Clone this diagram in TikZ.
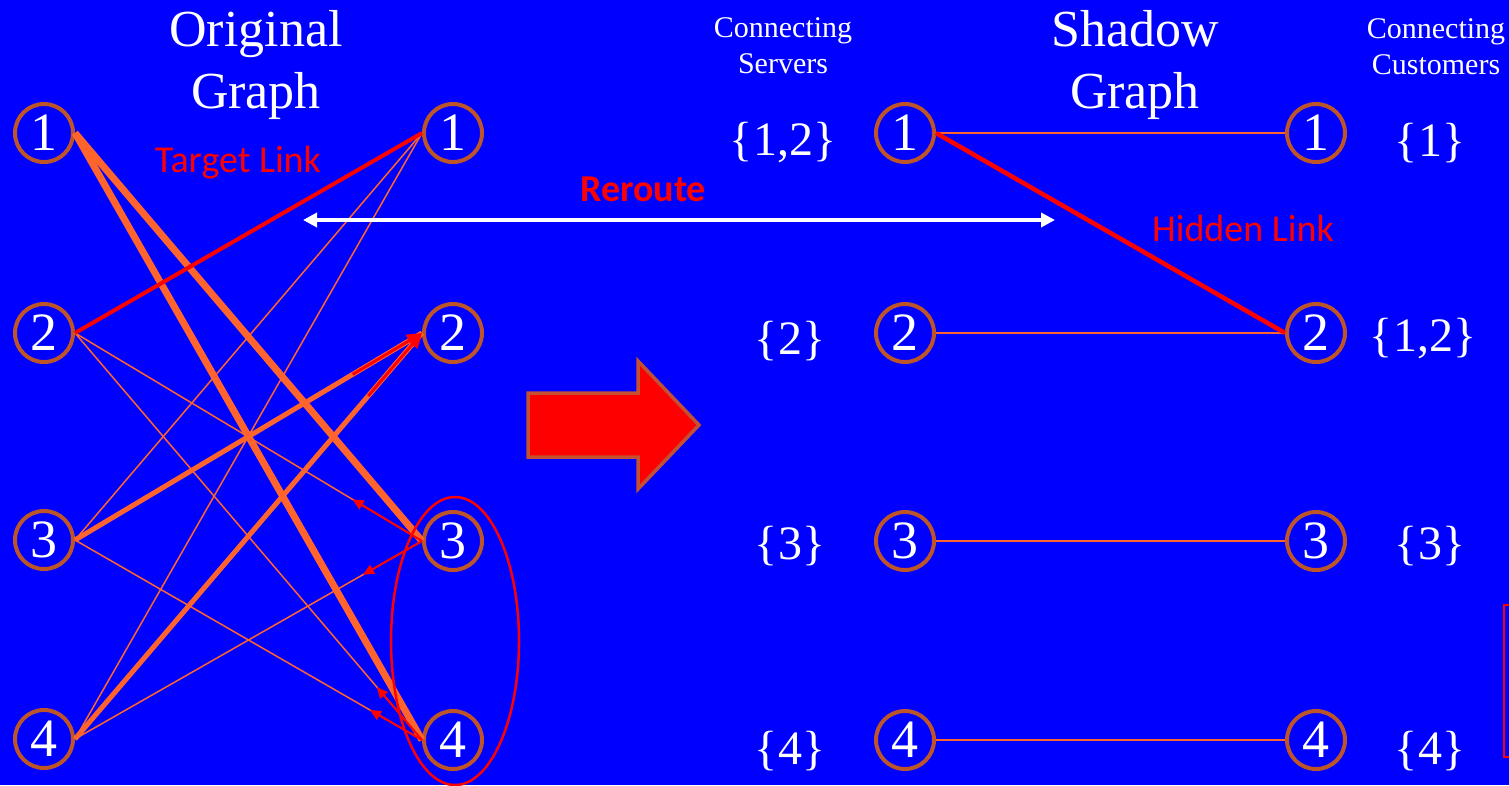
\documentclass[tikz,border=0pt]{standalone}
\usepackage{fontspec}
\setmainfont{Liberation Serif}
\newfontfamily\labfont{Carlito}
\usetikzlibrary{arrows.meta,calc}
\definecolor{bgblue}{RGB}{0,0,255}
\definecolor{nodebrown}{RGB}{190,85,40}
\definecolor{edgeorange}{RGB}{255,100,45}
\definecolor{arrowborder}{RGB}{195,80,50}
\begin{document}
\begin{tikzpicture}[x=1pt,y=-1pt,
  vtx/.style={circle,draw=nodebrown,line width=4pt,minimum size=58pt,inner sep=0pt,text=white,font=\fontsize{54}{54}\selectfont},
  settext/.style={text=white,font=\fontsize{48}{48}\selectfont,inner sep=0pt},
  titletext/.style={text=white,align=center,font=\fontsize{52}{62}\selectfont,inner sep=0pt},
  smalltitle/.style={text=white,align=center,font=\fontsize{30}{36}\selectfont,inner sep=0pt},
  redlabel/.style={text=red,font=\labfont\fontsize{38}{38}\selectfont,inner sep=0pt},
  thinedge/.style={draw=edgeorange,line width=1.5pt},
  thickedge/.style={draw=edgeorange,line width=7pt},
  midedge/.style={draw=edgeorange,line width=5pt},
  smallarrow/.style={draw=red,line width=2pt,-{Triangle[length=11pt,width=10pt]}},
  bigtip/.style={draw=red,line width=3pt,-{Triangle[length=15pt,width=13pt]}}
]
\fill[bgblue] (0,0) rectangle (1509,785);
\useasboundingbox (0,0) rectangle (1509,785);

% titles
\node[titletext] (tOrig) at (256,65) {Original\\Graph};
\node[titletext] (tShadow) at (1135,65) {Shadow\\Graph};
\node[smalltitle] (tServers) at (783,46) {Connecting\\Servers};
\node[smalltitle] (tCust) at (1436,47) {Connecting\\Customers};

% left graph nodes
\node[vtx] (L1) at (44,133) {1};
\node[vtx] (L2) at (44,333) {2};
\node[vtx] (L3) at (44,540) {3};
\node[vtx] (L4) at (44,739) {4};
\node[vtx] (R1) at (453,133) {1};
\node[vtx] (R2) at (453,333) {2};
\node[vtx] (R3) at (453,541) {3};
\node[vtx] (R4) at (453,740) {4};

% left graph edges
\draw[thinedge] (L2.east) -- (R3.west);
\draw[thinedge] (L2.east) -- (R4.west);
\draw[thinedge] (L3.east) -- (R1.west);
\draw[thinedge] (L3.east) -- (R4.west);
\draw[thinedge] (L4.east) -- (R1.west);
\draw[thinedge] (L4.east) -- (R3.west);
\draw[midedge] (L3.east) -- (R2.west);
\draw[midedge] (L4.east) -- (R2.west);
\draw[thickedge] (L1.east) -- (R3.west);
\draw[thickedge] (L1.east) -- (R4.west);
\draw[draw=red,line width=4pt] (L2.east) -- (R1.west);

% red arrows
\coordinate (a1) at ($(R3.west)!0.2!(L2.east)$);
\coordinate (a2) at ($(R3.west)!0.17!(L4.east)$);
\coordinate (a3) at ($(R4.west)!0.13!(L2.east)$);
\coordinate (a4) at ($(R4.west)!0.15!(L3.east)$);
\draw[smallarrow] (R3.west) -- (a1);
\draw[smallarrow] (R3.west) -- (a2);
\draw[smallarrow] (R4.west) -- (a3);
\draw[smallarrow] (R4.west) -- (a4);
\coordinate (b1) at ($(R2.west)!0.2!(L3.east)$);
\coordinate (b2) at ($(R2.west)!0.155!(L4.east)$);
\draw[bigtip] (b1) -- (R2.west);
\draw[bigtip] (b2) -- (R2.west);

% ellipse around 3 and 4
\draw[red,line width=2.5pt] (455,641) ellipse [x radius=64pt, y radius=144pt];

\node[redlabel] (target) at (238,163) {Target Link};
\node[redlabel,font=\labfont\bfseries\fontsize{38}{38}\selectfont] (reroute) at (643,189) {Reroute};

% white double arrow
\coordinate (wa) at (303,220);
\coordinate (wb) at (1055,220);
\draw[white,line width=4pt,{Triangle[length=14pt,width=14pt]}-{Triangle[length=14pt,width=14pt]}] (wa) -- (wb);

% big red arrow
\draw[draw=arrowborder,fill=red,line width=3.5pt,line join=miter]
  (528,393) -- (638,393) -- (638,361) -- (699,425) -- (638,489) -- (638,457) -- (528,457) -- cycle;

% server sets
\node[settext] (s1) at (783,143) {\{1,2\}};
\node[settext] (s2) at (790,341) {\{2\}};
\node[settext] (s3) at (790,546) {\{3\}};
\node[settext] (s4) at (790,751) {\{4\}};

% shadow graph nodes
\node[vtx] (S1) at (905,133) {1};
\node[vtx] (S2) at (905,333) {2};
\node[vtx] (S3) at (905,541) {3};
\node[vtx] (S4) at (905,740) {4};
\node[vtx] (T1) at (1316,133) {1};
\node[vtx] (T2) at (1316,333) {2};
\node[vtx] (T3) at (1316,541) {3};
\node[vtx] (T4) at (1316,740) {4};

\draw[thinedge] (S1.east) -- (T1.west);
\draw[thinedge] (S2.east) -- (T2.west);
\draw[thinedge] (S3.east) -- (T3.west);
\draw[thinedge] (S4.east) -- (T4.west);
\draw[draw=red,line width=4.5pt] (S1.east) -- (T2.west);

\node[redlabel] (hidden) at (1243,228) {Hidden Link};

% customer sets
\node[settext] (c1) at (1430,143) {\{1\}};
\node[settext] (c2) at (1423,339) {\{1,2\}};
\node[settext] (c3) at (1430,546) {\{3\}};
\node[settext] (c4) at (1430,751) {\{4\}};

% red box at right edge
\draw[draw=red,line width=2pt] (1503.5,605) rectangle (1530,757);
\end{tikzpicture}
\end{document}
